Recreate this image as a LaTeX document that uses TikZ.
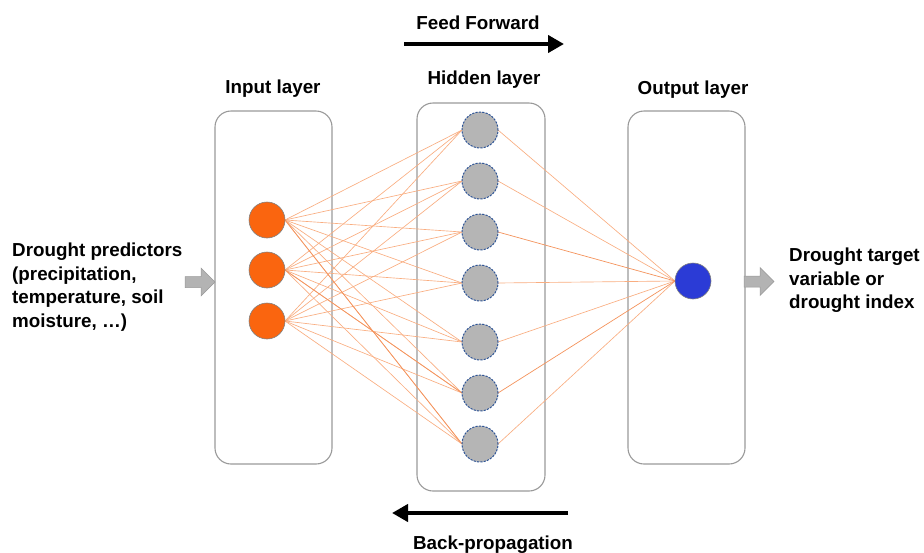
\documentclass[tikz,border=0pt]{standalone}
\usepackage{fontspec}
\setmainfont{Liberation Sans}
\usetikzlibrary{arrows.meta}
\definecolor{edgeor}{HTML}{F9AD80}
\definecolor{edgedark}{HTML}{F4935C}
\definecolor{inorange}{HTML}{FA650F}
\definecolor{hidgray}{HTML}{B5B5B5}
\definecolor{hidblue}{HTML}{2F5597}
\definecolor{outblue}{HTML}{2B3BD6}
\definecolor{boxgray}{HTML}{9A9A9A}
\definecolor{arrgray}{HTML}{B3B3B3}
\tikzset{
  layerbox/.style={draw=boxgray, line width=1.1pt, rounded corners=16pt, fill=white},
  innode/.style={circle, minimum size=36pt, inner sep=0pt, fill=inorange, draw=gray, line width=0.6pt},
  hidnode/.style={circle, minimum size=36pt, inner sep=0pt, fill=hidgray, draw=hidblue, line width=1pt, dash pattern=on 2.2pt off 1.2pt},
  outnode/.style={circle, minimum size=36pt, inner sep=0pt, fill=outblue, draw=gray, line width=0.6pt},
  edge/.style={draw=edgeor, line width=0.65pt},
  edgedk/.style={draw=edgedark, line width=0.7pt},
  lbl/.style={font=\bfseries\fontsize{18.8}{22}\selectfont, inner sep=0pt},
  side/.style={font=\bfseries\fontsize{18.8}{23.5}\selectfont, align=left, inner sep=0pt},
  bigarrow/.style={line width=4.5pt, -{Triangle[length=16pt,width=17pt]}},
  grayarrow/.style={fill=arrgray, draw=gray!80, line width=0.5pt}
}
\begin{document}
\begin{tikzpicture}[x=1pt,y=-1pt]
\useasboundingbox (0,0) rectangle (924,552);
% boxes
\node[layerbox, minimum width=117pt, minimum height=353pt] (inbox) at (273.5,287.5) {};
\node[layerbox, minimum width=128pt, minimum height=388pt] (hidbox) at (481,297) {};
\node[layerbox, minimum width=117pt, minimum height=353pt] (outbox) at (686.5,287.5) {};
% node positions
\foreach \i/\y in {1/220,2/270,3/321} \coordinate (ic\i) at (267,\y);
\foreach \j/\y in {1/130,2/181,3/232,4/283,5/342,6/393,7/444} \coordinate (hc\j) at (480,\y);
% edges (drawn before nodes)
\foreach \i in {1,2,3} \foreach \j in {1,...,7} \draw[edge] ([xshift=18pt]ic\i) -- ([xshift=-18pt]hc\j);
\draw[edgedk] ([xshift=18pt]ic1) -- ([xshift=-18pt]hc7);
\draw[edgedk] ([xshift=18pt]ic2) -- ([xshift=-18pt]hc6);
\coordinate (ow) at (675,281);
\foreach \j in {1,2,4,5,7} \draw[edge] ([xshift=18pt]hc\j) -- (ow);
\draw[edgedk] ([xshift=18pt]hc3) -- (ow);
\draw[edgedk] ([xshift=18pt]hc6) -- (ow);
% nodes
\foreach \i in {1,2,3} \node[innode] (i\i) at (ic\i) {};
\foreach \j in {1,...,7} \node[hidnode] (h\j) at (hc\j) {};
\node[outnode] (o) at (693,281) {};
% labels
\node[lbl] (inl) at (273,88.5) {Input layer};
\node[lbl] (hidl) at (484,79.5) {Hidden layer};
\node[lbl] (outl) at (693,89.5) {Output layer};
\node[lbl] (ff) at (478,23) {Feed Forward};
\node[lbl] (bp) at (493,544.5) {Back-propagation};
\coordinate (ffa) at (404,44);
\coordinate (ffb) at (564,44);
\draw[bigarrow] (ffa) -- (ffb);
\coordinate (bpa) at (568,513);
\coordinate (bpb) at (392,513);
\draw[bigarrow] (bpa) -- (bpb);
% side texts
\node[side, anchor=north west] (pred) at (12,243) {Drought predictors\\(precipitation,\\temperature, soil\\moisture, \dots)};
\node[side, anchor=north west] (targ) at (789,248) {Drought target\\variable or\\drought index};
% gray arrows
\draw[grayarrow] (185,276.5) -- (201,276.5) -- (201,268) -- (215,282) -- (201,296) -- (201,287.5) -- (185,287.5) -- cycle;
\draw[grayarrow] (744,276) -- (760,276) -- (760,267.5) -- (774,281.5) -- (760,295.5) -- (760,287) -- (744,287) -- cycle;
\end{tikzpicture}
\end{document}
